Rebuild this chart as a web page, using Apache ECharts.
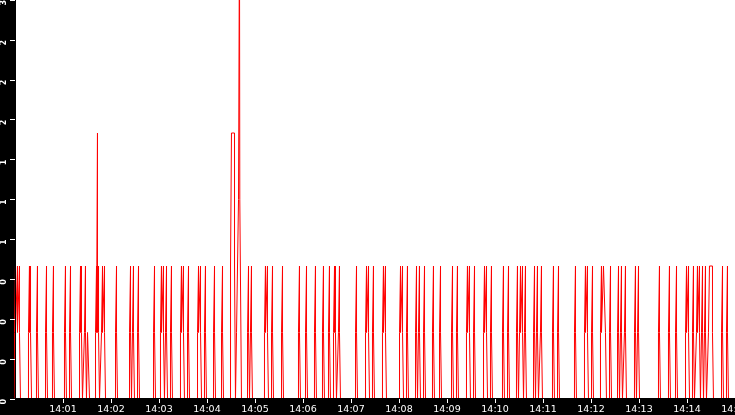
<!DOCTYPE html>
<html>
<head>
<meta charset="utf-8">
<script src="https://cdn.jsdelivr.net/npm/echarts@6/dist/echarts.min.js"></script>
<style>
html, body { margin: 0; padding: 0; background: #000; }
#chart { width: 735px; height: 415px; }
</style>
</head>
<body>
<div id="chart"></div>
<script>
// seconds after 14:00:00
const timeLabels = ['14:00', '14:01', '14:02', '14:03', '14:04', '14:05', '14:06', '14:07',
    '14:08', '14:09', '14:10', '14:11', '14:12', '14:13', '14:14', '14:15'];
const yLabels = ['0', '0', '0', '0', '1', '1', '1', '2', '2', '2', '3'];

// short pulses: time of the peak and its value
const pulseSec = [
    0.6, 3.1, 5.6, 18.1, 19.4, 28.1, 39.4, 48.1, 63.1, 69.4,
    81.9, 83.1, 88.1, 91.9, 101.9, 103.1, 104.4, 109.4, 111.9, 126.9,
    144.4, 148.1, 154.4, 174.4, 183.1, 185.6, 189.4, 195.6, 208.1, 210.6,
    216.9, 229.4, 231.9, 238.1, 249.4, 259.4, 291.9, 295.6, 313.1, 315.6,
    321.9, 334.4, 355.6, 364.4, 375.6, 385.6, 393.1, 399.4, 400.6, 405.6,
    426.9, 439.4, 441.9, 448.1, 460.6, 463.1, 481.9, 484.4, 490.6, 501.9,
    505.6, 511.9, 523.1, 531.9, 546.9, 553.1, 565.6, 568.1, 574.4, 586.9,
    589.4, 595.6, 610.6, 616.9, 628.1, 631.9, 634.4, 638.1, 649.4, 653.1,
    658.1, 673.1, 679.4, 700.6, 713.1, 715.6, 721.9, 733.1, 744.4, 754.4,
    758.1, 763.1, 775.6, 779.4, 805.6, 818.1, 826.9, 839.4, 841.9, 848.1,
    853.1, 855.6, 859.4, 863.1, 884.4, 890.6,
];
const pulsePeak = [
    1, 1, 1, 1, 1, 1, 1, 1, 1, 1,
    1, 1, 1, 0.5, 1, 2, 1, 1, 1, 1,
    1, 1, 1, 1, 1, 1, 1, 1, 1, 1,
    1, 1, 1, 1, 1, 1, 1, 1, 1, 1,
    1, 1, 1, 1, 1, 1, 1, 1, 1, 1,
    1, 1, 1, 1, 1, 1, 1, 1, 1, 1,
    1, 1, 1, 1, 1, 1, 1, 1, 1, 1,
    1, 1, 1, 1, 1, 1, 1, 1, 1, 1,
    1, 1, 1, 1, 1, 1, 1, 1, 1, 1,
    1, 1, 1, 1, 1, 1, 1, 1, 1, 1,
    1, 1, 1, 1, 1, 1,
];

// pulses that stay at 1 a little longer
const plateauSec = [735.6, 868.1];
const plateauHold = [2.5, 3.75];

// the burst around 14:04:30 (readings where the value changes)
const burstSec = [269.4, 270.6, 274.4, 275.6, 276.9, 279.4, 280.6, 281.0, 283.1];
const burstVal = [1, 2, 1, 0, 0.5, 1.5, 3.6, 1.5, 0];

const SHOULDER = 1.25; // one sample at 0.5 either side of a peak

const pulse = (c, peak, hold) => [
    [c - SHOULDER, 0.5], [c, peak], [c + hold, 0.5], [c + hold + SHOULDER, 0],
];

const blocks = [
    ...pulseSec.map((c, i) => pulse(c, pulsePeak[i], 0)),
    ...plateauSec.map((c, i) => pulse(c, 1, plateauHold[i])),
    burstSec.map((t, i) => [t, burstVal[i]]),
];
blocks.sort((a, b) => a[0][0] - b[0][0]);

const points = [[0, 0]];
blocks.forEach(b => {
    const last = points[points.length - 1];
    // neighbouring pulses share their shoulder
    if (points.length > 1 && last[1] === 0 && b[0][1] === 0.5 && last[0] >= b[0][0] - 0.01) {
        points.pop();
        points.push(...b.slice(1));
    }
    else {
        points.push(...b);
    }
});
points.push([900, 0]);

const chart = echarts.init(document.getElementById('chart'));
chart.setOption({
    animation: false,
    backgroundColor: '#000',
    grid: {
        left: 15,
        right: 0,
        top: 0,
        bottom: 16,
        show: true,
        backgroundColor: '#fff',
        borderWidth: 0,
        containLabel: false,
        outerBoundsMode: 'none',
    },
    xAxis: {
        type: 'value',
        min: 0,
        max: 900,
        interval: 60,
        z: 10,
        axisLine: {lineStyle: {color: '#000', width: 2}},
        axisTick: {length: 4, lineStyle: {color: '#fff'}},
        splitLine: {show: false},
        axisLabel: {
            color: '#fff',
            fontFamily: 'DejaVu Sans',
            fontSize: 9.5,
            margin: 6,
            showMinLabel: false,
            showMaxLabel: true,
            hideOverlap: false,
            formatter: v => timeLabels[Math.round(v / 60)],
        },
    },
    yAxis: {
        type: 'value',
        min: 0,
        max: 3,
        interval: 0.3,
        z: 10,
        axisLine: {show: true, lineStyle: {color: '#000', width: 1}},
        axisTick: {show: true, length: 5, lineStyle: {color: '#fff'}},
        splitLine: {show: false},
        axisLabel: {
            color: '#fff',
            fontFamily: 'DejaVu Sans',
            fontSize: 8,
            fontWeight: 'bold',
            rotate: 90,
            align: 'right',
            margin: 7,
            showMinLabel: true,
            showMaxLabel: true,
            formatter: v => yLabels[Math.round(v / 0.3)],
        },
    },
    series: [
        {
            type: 'line',
            step: 'end',
            data: points,
            symbol: 'none',
            lineStyle: {color: '#f00', width: 1},
        },
    ],
});
</script>
</body>
</html>
